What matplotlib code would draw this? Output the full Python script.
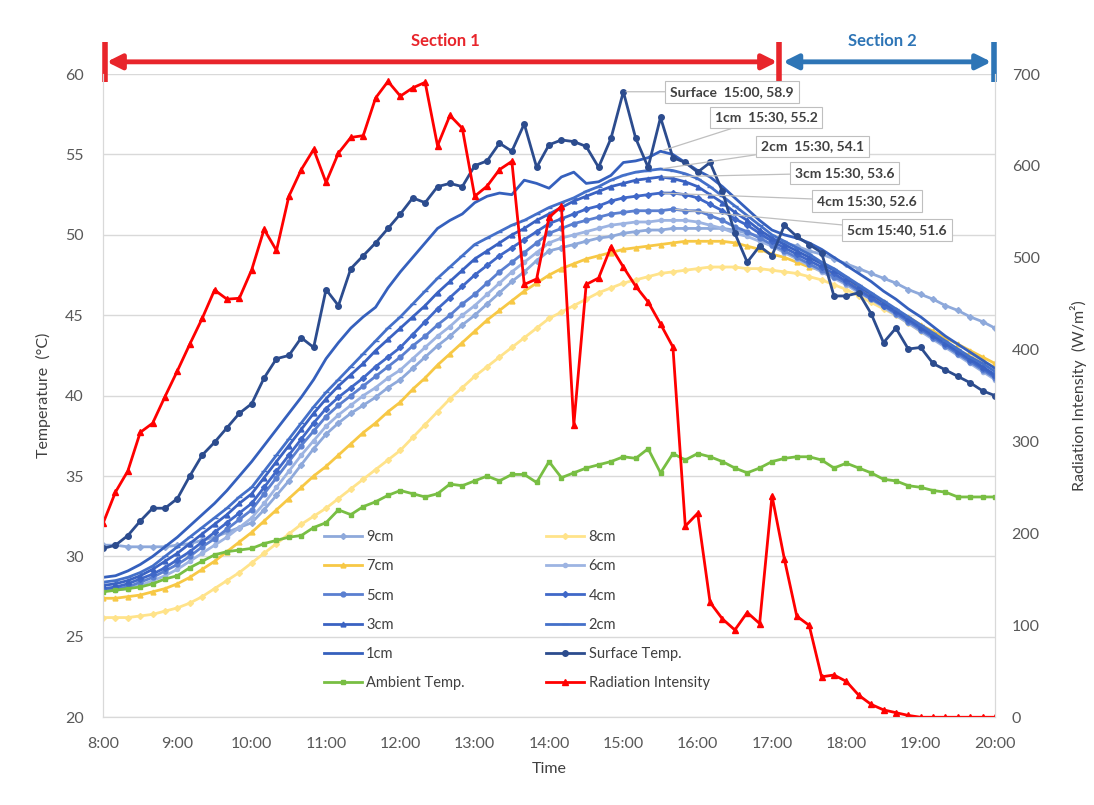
import numpy as np
import matplotlib.pyplot as plt
import matplotlib.transforms as mtransforms

plt.rcParams['font.family'] = ['Lato', 'DejaVu Sans']

# 10-minute readings from 8:00 to 20:00
hours = 8 + np.arange(73) / 6
tick_hours = list(range(8, 21))
tick_labels = ['8:00', '9:00', '10:00', '11:00', '12:00', '13:00', '14:00',
               '15:00', '16:00', '17:00', '18:00', '19:00', '20:00']

surface = [30.5, 30.7, 31.3, 32.2, 33.0, 33.0, 33.6, 35.0, 36.3, 37.1,
           38.0, 38.9, 39.5, 41.1, 42.3, 42.5, 43.6, 43.0, 46.6, 45.6,
           47.9, 48.7, 49.5, 50.4, 51.3, 52.3, 52.0, 53.0, 53.2, 53.0,
           54.3, 54.6, 55.7, 55.2, 56.9, 54.2, 55.6, 55.9, 55.8, 55.5,
           54.2, 56.0, 58.9, 56.0, 54.2, 57.3, 54.8, 54.5, 53.9, 54.5,
           52.7, 50.1, 48.3, 49.3, 48.7, 50.6, 49.9, 49.4, 48.9, 46.2,
           46.2, 46.4, 45.1, 43.3, 44.2, 42.9, 43.0, 42.0, 41.6, 41.2,
           40.8, 40.3, 40.0]
cm1 = [28.7, 28.8, 29.1, 29.5, 30.0, 30.6, 31.2,
       31.9, 32.6, 33.3, 34.1, 35.0, 35.9,
       36.9, 37.9, 38.9, 39.9, 41.0, 42.3,
       43.3, 44.2, 44.9, 45.5, 46.7, 47.7,
       48.6, 49.5, 50.4, 50.9, 51.3, 52.0,
       52.4, 52.6, 52.5, 53.4, 53.2, 52.9,
       53.6, 53.9, 53.2, 53.3, 53.7, 54.5,
       54.6, 54.8, 55.2, 55.0, 54.5, 54.0,
       53.6, 53.0, 52.3, 51.6, 50.9, 50.3,
       50.0, 49.8, 49.5, 49.1, 48.6, 48.1,
       47.6, 47.1, 46.5, 46.0, 45.4, 44.9,
       44.3, 43.7, 43.2, 42.7, 42.2, 41.7]
cm2 = [28.4, 28.5, 28.7, 29.0, 29.4, 30.0, 30.6,
       31.2, 31.8, 32.4, 33.0, 33.7, 34.3,
       35.3, 36.3, 37.3, 38.3, 39.3, 40.2,
       41.0, 41.8, 42.6, 43.4, 44.2, 44.9,
       45.7, 46.5, 47.3, 48.0, 48.7, 49.4,
       49.8, 50.2, 50.6, 50.9, 51.3, 51.7,
       52.0, 52.3, 52.7, 53.0, 53.4, 53.7,
       53.9, 54.0, 54.1, 54.0, 53.8, 53.5,
       53.0, 52.4, 51.8, 51.2, 50.6, 50.0,
       49.6, 49.2, 48.8, 48.3, 47.9, 47.4,
       46.9, 46.4, 45.9, 45.4, 44.9, 44.4,
       43.9, 43.4, 42.9, 42.4, 42.0, 41.5]
cm3 = [28.2, 28.3, 28.5, 28.8, 29.2, 29.7, 30.2,
       30.8, 31.4, 32.0, 32.6, 33.3, 33.9,
       34.9, 35.9, 36.9, 37.9, 38.9, 39.8,
       40.6, 41.3, 42.0, 42.8, 43.5, 44.2,
       44.9, 45.6, 46.4, 47.1, 47.8, 48.5,
       49.0, 49.5, 50.0, 50.4, 50.9, 51.3,
       51.7, 52.1, 52.4, 52.7, 53.0, 53.2,
       53.4, 53.5, 53.6, 53.5, 53.3, 53.0,
       52.5, 52.0, 51.4, 50.9, 50.3, 49.8,
       49.4, 49.0, 48.6, 48.2, 47.8, 47.3,
       46.8, 46.3, 45.8, 45.3, 44.8, 44.3,
       43.8, 43.3, 42.8, 42.3, 41.8, 41.3]
cm4 = [28.0, 28.1, 28.3, 28.6, 28.9, 29.3, 29.8,
       30.3, 30.9, 31.5, 32.1, 32.7, 33.3,
       34.3, 35.3, 36.3, 37.3, 38.3, 39.2,
       39.9, 40.5, 41.1, 41.8, 42.4, 43.0,
       43.8, 44.6, 45.4, 46.1, 46.8, 47.5,
       48.1, 48.7, 49.2, 49.7, 50.2, 50.7,
       51.0, 51.3, 51.6, 51.8, 52.1, 52.3,
       52.4, 52.5, 52.6, 52.6, 52.5, 52.3,
       51.9, 51.5, 51.0, 50.6, 50.1, 49.6,
       49.2, 48.8, 48.4, 48.0, 47.6, 47.1,
       46.6, 46.1, 45.6, 45.2, 44.7, 44.2,
       43.7, 43.2, 42.7, 42.2, 41.7, 41.2]
cm5 = [27.9, 28.0, 28.1, 28.4, 28.7, 29.1, 29.5,
       30.0, 30.6, 31.1, 31.7, 32.3, 32.9,
       33.9, 34.9, 35.9, 36.9, 37.8, 38.7,
       39.4, 40.0, 40.6, 41.2, 41.8, 42.4,
       43.1, 43.7, 44.4, 45.0, 45.7, 46.3,
       47.0, 47.7, 48.3, 48.9, 49.5, 50.1,
       50.4, 50.7, 50.9, 51.1, 51.3, 51.4,
       51.5, 51.5, 51.5, 51.6, 51.5, 51.5,
       51.2, 50.9, 50.5, 50.2, 49.8, 49.4,
       49.0, 48.6, 48.2, 47.8, 47.4, 47.0,
       46.5, 46.0, 45.6, 45.1, 44.6, 44.1,
       43.6, 43.1, 42.6, 42.1, 41.6, 41.1]
cm6 = [27.9, 27.9, 28.0, 28.2, 28.5, 28.8, 29.2,
       29.7, 30.2, 30.7, 31.2, 31.8, 32.4,
       33.3, 34.3, 35.3, 36.3, 37.2, 38.1,
       38.8, 39.4, 40.0, 40.5, 41.1, 41.6,
       42.3, 43.0, 43.7, 44.3, 45.0, 45.6,
       46.3, 47.0, 47.7, 48.3, 48.9, 49.5,
       49.8, 50.0, 50.2, 50.4, 50.6, 50.7,
       50.8, 50.8, 50.9, 50.9, 50.9, 50.8,
       50.6, 50.4, 50.1, 49.9, 49.6, 49.3,
       48.9, 48.5, 48.1, 47.7, 47.3, 46.9,
       46.4, 46.0, 45.5, 45.0, 44.5, 44.0,
       43.5, 43.0, 42.5, 42.0, 41.5, 41.0]
cm7 = [27.4, 27.4, 27.5, 27.6, 27.8, 28.0, 28.3,
       28.7, 29.2, 29.7, 30.3, 30.9, 31.5,
       32.2, 32.9, 33.6, 34.3, 35.0, 35.6,
       36.3, 37.0, 37.7, 38.3, 39.0, 39.6,
       40.4, 41.1, 41.9, 42.6, 43.3, 44.0,
       44.7, 45.3, 45.9, 46.5, 47.0, 47.5,
       47.9, 48.2, 48.5, 48.7, 48.9, 49.1,
       49.2, 49.3, 49.4, 49.5, 49.6, 49.6,
       49.6, 49.6, 49.5, 49.3, 49.1, 48.8,
       48.6, 48.3, 48.0, 47.8, 47.5, 47.1,
       46.7, 46.2, 45.8, 45.3, 44.9, 44.4,
       44.0, 43.6, 43.2, 42.8, 42.4, 42.0]
cm8 = [26.2, 26.2, 26.2, 26.3, 26.4, 26.6, 26.8,
       27.1, 27.5, 28.0, 28.5, 29.0, 29.6,
       30.2, 30.8, 31.4, 32.0, 32.5, 33.0,
       33.6, 34.2, 34.8, 35.4, 36.0, 36.6,
       37.4, 38.2, 39.0, 39.8, 40.5, 41.2,
       41.8, 42.4, 43.0, 43.6, 44.2, 44.8,
       45.2, 45.6, 46.0, 46.4, 46.7, 47.0,
       47.2, 47.4, 47.6, 47.7, 47.8, 47.9,
       48.0, 48.0, 48.0, 47.9, 47.9, 47.8,
       47.7, 47.6, 47.4, 47.2, 46.9, 46.6,
       46.2, 45.8, 45.4, 45.0, 44.5, 44.0,
       43.6, 43.2, 42.8, 42.5, 42.1, 41.8]
cm9 = [30.7, 30.7, 30.6, 30.6, 30.6, 30.6, 30.7,
       30.8, 31.0, 31.2, 31.5, 31.8, 32.1,
       32.9, 33.8, 34.7, 35.7, 36.7, 37.6,
       38.3, 38.9, 39.4, 39.9, 40.5, 41.0,
       41.7, 42.4, 43.1, 43.7, 44.4, 45.0,
       45.7, 46.4, 47.1, 47.7, 48.4, 49.0,
       49.2, 49.4, 49.6, 49.8, 49.9, 50.1,
       50.2, 50.3, 50.3, 50.4, 50.4, 50.4,
       50.4, 50.4, 50.3, 50.1, 49.9, 49.7,
       49.5, 49.3, 49.0, 48.8, 48.5, 48.2,
       47.9, 47.6, 47.3, 47.0, 46.6, 46.3,
       46.0, 45.6, 45.3, 44.9, 44.6, 44.2]
ambient = [27.8, 27.9, 28.0, 28.1, 28.3, 28.6, 28.8, 29.3, 29.7, 30.1,
           30.3, 30.4, 30.5, 30.8, 31.0, 31.2, 31.3, 31.8, 32.1, 32.9,
           32.6, 33.1, 33.4, 33.8, 34.1, 33.9, 33.7, 33.9, 34.5, 34.4,
           34.7, 35.0, 34.7, 35.1, 35.1, 34.6, 35.9, 34.9, 35.2, 35.5,
           35.7, 35.9, 36.2, 36.1, 36.7, 35.2, 36.4, 36.0, 36.4, 36.2,
           35.9, 35.5, 35.2, 35.5, 35.9, 36.1, 36.2, 36.2, 36.0, 35.5,
           35.8, 35.5, 35.2, 34.8, 34.7, 34.4, 34.3, 34.1, 34.0, 33.7,
           33.7, 33.7, 33.7]
radiation = [211, 245, 268, 310, 320, 349, 377, 406, 434, 465,
             455, 456, 487, 531, 508, 567, 596, 618, 582, 614,
             631, 633, 674, 692, 676, 685, 691, 622, 655, 641,
             567, 578, 596, 605, 471, 477, 544, 556, 318, 471,
             478, 512, 490, 469, 452, 428, 403, 208, 222, 125,
             107, 95, 114, 102, 241, 172, 110, 100, 44, 46,
             39, 24, 14, 8, 5, 2, 0, 0, 0, 0,
             0, 0, 0]

peak_labels = ['Surface  15:00, 58.9', '1cm  15:30, 55.2', '2cm  15:30, 54.1',
               '3cm 15:30, 53.6', '4cm 15:30, 52.6', '5cm 15:40, 51.6']
peak_hours = [15.0, 15.5, 15.5, 15.5, 15.5, 15 + 40 / 60]
peak_values = [58.9, 55.2, 54.1, 53.6, 52.6, 51.6]

fig = plt.figure(figsize=(10.94, 8.05), dpi=100)
ax = fig.add_axes([0.0942, 0.109, 0.8153, 0.799])
ax2 = ax.twinx()

# (label, data, colour, marker, size)
temp_series = [
    ('9cm', cm9, '#8EA9DB', 'D', 3),
    ('8cm', cm8, '#FFE38A', 'D', 3),
    ('7cm', cm7, '#F7C845', '^', 3.5),
    ('6cm', cm6, '#9DB4E2', 'o', 3),
    ('5cm', cm5, '#5A7FD0', 'o', 3.5),
    ('4cm', cm4, '#4068C8', 'D', 3),
    ('3cm', cm3, '#3A62C2', '^', 3.5),
    ('2cm', cm2, '#4470C9', '_', 5),
    ('1cm', cm1, '#3560BD', '', 0),
    ('Surface Temp.', surface, '#2C4C8E', 'o', 4),
    ('Ambient Temp.', ambient, '#78BE43', 's', 3.5),
]
handles = []
for label, data, col, mk, ms in temp_series:
    h, = ax.plot(hours, data, color=col, lw=2.0, marker=mk, ms=ms, label=label)
    handles.append(h)
hr, = ax2.plot(hours, radiation, color='#FF0000', lw=2.0, marker='^', ms=4,
               label='Radiation Intensity')
handles.append(hr)

ax.set_xlim(8, 20)
ax.set_ylim(20, 60)
ax2.set_ylim(0, 700)
ax.set_xticks(tick_hours)
ax.set_xticklabels(tick_labels)
ax.set_yticks(range(20, 61, 5))
ax2.set_yticks(range(0, 701, 100))
ax.yaxis.grid(True, color='#D9D9D9', lw=1)
ax.set_axisbelow(True)
for a in (ax, ax2):
    a.tick_params(length=0, labelsize=11.5, labelcolor='#595959')
    a.spines['top'].set_visible(False)
    for s in ('left', 'right', 'bottom'):
        a.spines[s].set_color('#D9D9D9')
ax.tick_params(axis='x', pad=14)
ax.tick_params(axis='y', pad=14)
ax2.tick_params(axis='y', pad=12)
ax.set_xlabel('Time', fontsize=11.5, color='#404040', labelpad=8)
ax.set_ylabel('Temperature  (°C)', fontsize=11.5, color='#404040', labelpad=10)
ax2.set_ylabel('Radiation Intensity  (W/m²)', fontsize=11.5, color='#404040',
               labelpad=22)

# legend (column-major: left column then right column)
order = [0, 2, 4, 6, 8, 10, 1, 3, 5, 7, 9, 11]
ax2.legend([handles[i] for i in order], [handles[i].get_label() for i in order],
           ncol=2, frameon=False, loc='upper left',
           bbox_to_anchor=(0.284, 0.358), bbox_transform=fig.transFigure,
           fontsize=10.5, labelspacing=1.05, columnspacing=5.6,
           handlelength=2.6, handletextpad=0.3, labelcolor='#404040')

# peak labels
text_pos = [(16.46, 58.9), (16.92, 57.3), (17.54, 55.5),
            (17.98, 53.85), (18.28, 52.1), (18.68, 50.3)]
for lab, hx, val, (tx, ty) in zip(peak_labels, peak_hours, peak_values, text_pos):
    ax.annotate(lab, xy=(hx, val), xytext=(tx, ty), ha='center', va='center',
                fontsize=10, fontweight='bold', color='#404040', zorder=10,
                bbox=dict(boxstyle='square,pad=0.35', fc='white', ec='#BFBFBF', lw=0.8),
                arrowprops=dict(arrowstyle='-', color='#BFBFBF', lw=0.9,
                                shrinkA=0, shrinkB=2))

# section arrows above the plot
trans = mtransforms.blended_transform_factory(ax.transData, ax.transAxes)
y_arrow = 1.019
ax.annotate('', xy=(8.05, y_arrow), xytext=(17.07, y_arrow), xycoords=trans,
            textcoords=trans, annotation_clip=False,
            arrowprops=dict(arrowstyle='<|-|>', color='#E8252B', lw=3.5,
                            mutation_scale=22, shrinkA=0, shrinkB=0))
ax.annotate('', xy=(17.15, y_arrow), xytext=(19.95, y_arrow), xycoords=trans,
            textcoords=trans, annotation_clip=False,
            arrowprops=dict(arrowstyle='<|-|>', color='#2E75B6', lw=3.5,
                            mutation_scale=22, shrinkA=0, shrinkB=0))
for xb, col in ((8.02, '#E8252B'), (17.1, '#E8252B'), (19.98, '#2E75B6')):
    ax.plot([xb, xb], [0.988, 1.05], transform=trans, color=col, lw=4,
            clip_on=False, solid_capstyle='butt')
ax.text(12.6, 1.052, 'Section 1', transform=trans, ha='center', va='center',
        color='#E8252B', fontsize=12, fontweight='bold')
ax.text(18.49, 1.052, 'Section 2', transform=trans, ha='center', va='center',
        color='#2E75B6', fontsize=12, fontweight='bold')

fig.savefig('out.png', dpi=100)
